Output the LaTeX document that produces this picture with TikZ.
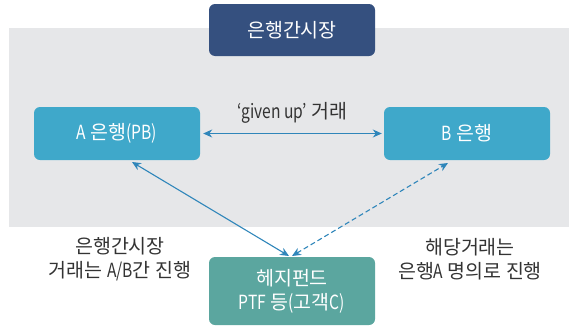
\documentclass[tikz,border=0pt]{standalone}
\usepackage{fontspec}
\setmainfont{Noto Sans CJK KR}
% narrow face for Latin runs inside Korean labels
\newfontfamily\narrowface[FakeStretch=0.8]{Noto Sans CJK KR}
\newcommand{\lat}[1]{{\narrowface #1}}
\usetikzlibrary{arrows.meta}
\definecolor{bandgray}{HTML}{E6E7E9}
\definecolor{marketblue}{HTML}{35507F}
\definecolor{bankblue}{HTML}{3FA8CA}
\definecolor{fundteal}{HTML}{5BA69F}
\definecolor{linkblue}{HTML}{2F86BA}
\definecolor{inktext}{HTML}{333333}
\tikzset{
  box/.style={rounded corners=6pt, minimum width=166pt, text=white,
    font=\fontsize{19.5}{24}\selectfont, align=center, inner sep=0pt},
  link/.style={draw=linkblue, line width=1.1pt,
    {Stealth[length=9pt,width=8pt]}-{Stealth[length=9pt,width=8pt]}},
  note/.style={text=inktext, font=\fontsize{19.5}{24}\selectfont, align=center}
}
\begin{document}
\begin{tikzpicture}[x=1pt,y=-1pt]
\useasboundingbox (0,0) rectangle (570,327);
% grey band for the interbank market
\fill[bandgray] (9,28) rectangle (569,227);
% boxes
\node[box, fill=marketblue, minimum height=52pt] (market) at (292,30) {은행간시장};
\node[box, fill=bankblue, minimum height=53pt] (bankA) at (117,133.5) {\lat{A} 은행\lat{(PB)}};
\node[box, fill=bankblue, minimum height=53pt] (bankB) at (467,133.5) {\lat{B} 은행};
\node[box, fill=fundteal, minimum height=68pt] (fund) at (292,291) {헤지펀드\\\lat{PTF} 등\lat{(}고객\lat{C)}};
% connector anchors
\coordinate (fundL) at (289,256);
\coordinate (fundR) at (292,256);
\coordinate (aLow) at (132,162);
\coordinate (bLow) at (448,163);
% links
\draw[link] ([xshift=3pt]bankA.east) -- ([xshift=-2pt]bankB.west)
  node[midway, above=6pt, text=inktext, font=\fontsize{19.5}{24}\selectfont] (givenup) {\lat{‘given up’} 거래};
\draw[link] (aLow) -- (fundL);
\draw[link, dashed, dash pattern=on 5pt off 3pt] (fundR) -- (bLow);
% notes
\node[note] (noteL) at (120,259) {은행간시장\\거래는 \lat{A/B}간 진행};
\node[note] (noteR) at (470,259) {해당거래는\\은행\lat{A} 명의로 진행};
\end{tikzpicture}
\end{document}
